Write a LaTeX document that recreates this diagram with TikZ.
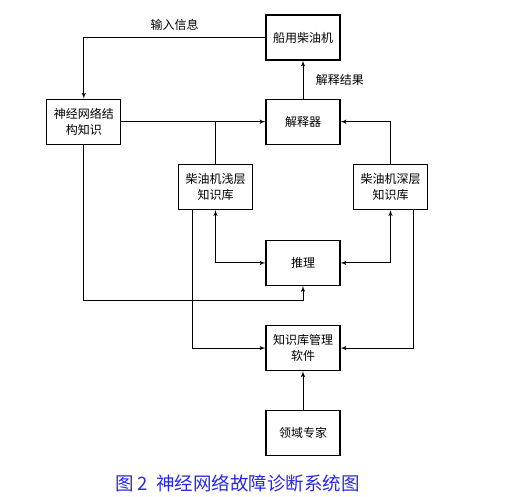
\documentclass[tikz,border=0pt]{standalone}
\usepackage{fontspec}
\setmainfont{Noto Sans CJK SC}
\usepackage{tikz}
\usetikzlibrary{shapes,arrows,positioning,calc}
\definecolor{CapBlue}{RGB}{40, 40, 225}

\begin{document}
\begin{tikzpicture}[x=1pt, y=-1pt, node distance=38pt, auto]
  \tikzstyle{block} = [rectangle, draw=black, fill=white, minimum width=74pt, minimum height=45pt, align=center, line width=1.2pt, font=\fontsize{12}{16}\selectfont, inner sep=2pt]
  \tikzstyle{line} = [draw=black, -latex', line width=1pt]
  \tikzstyle{twoway} = [draw=black, latex'-latex', line width=1pt]
  \useasboundingbox (0,0) rectangle (531,497);

  \node [block] (ship) at (303,37.5) {船用柴油机};
  \node [block, below=38pt of ship] (interp) {解释器};
  \node [block, left=144pt of interp] (nn) {神经网络结\\构知识};
  \node [block] (shallow) at (215.5,187) {柴油机浅层\\知识库};
  \node [block] (deep) at (390.5,187) {柴油机深层\\知识库};
  \node [block, below=95pt of interp] (infer) {推理};
  \node [block, below=39pt of infer] (kbm) {知识库管理\\软件};
  \node [block, below=39pt of kbm] (expert) {领域专家};

  \path [line] (ship.west) -| node [pos=0.25, above=3pt, font=\fontsize{12}{14}\selectfont] {输入信息} (nn.north);
  \path [line] (interp.north) -- node [right=9pt, font=\fontsize{12}{14}\selectfont] {解释结果} (ship.south);
  \path [line] (nn.east) -- (interp.west);
  \draw [line width=1pt] (shallow.north) -- (shallow.north |- interp.west);
  \path [line] (deep.north) |- (interp.east);
  \path [twoway] (shallow.south) |- (infer.west);
  \path [twoway] (deep.south) |- (infer.east);
  \path [line] (nn.south) -- ++(0,156) -| (infer.south);
  \path [line] ([xshift=15pt]shallow.south west) |- (kbm.west);
  \path [line] ([xshift=-15pt]deep.south east) |- (kbm.east);
  \path [line] (expert.north) -- (kbm.south);

  \node [text=CapBlue, font=\fontsize{18.5}{22}\selectfont] (caption) at (237.5,483) {图 2\ \ 神经网络故障诊断系统图};
\end{tikzpicture}
\end{document}
